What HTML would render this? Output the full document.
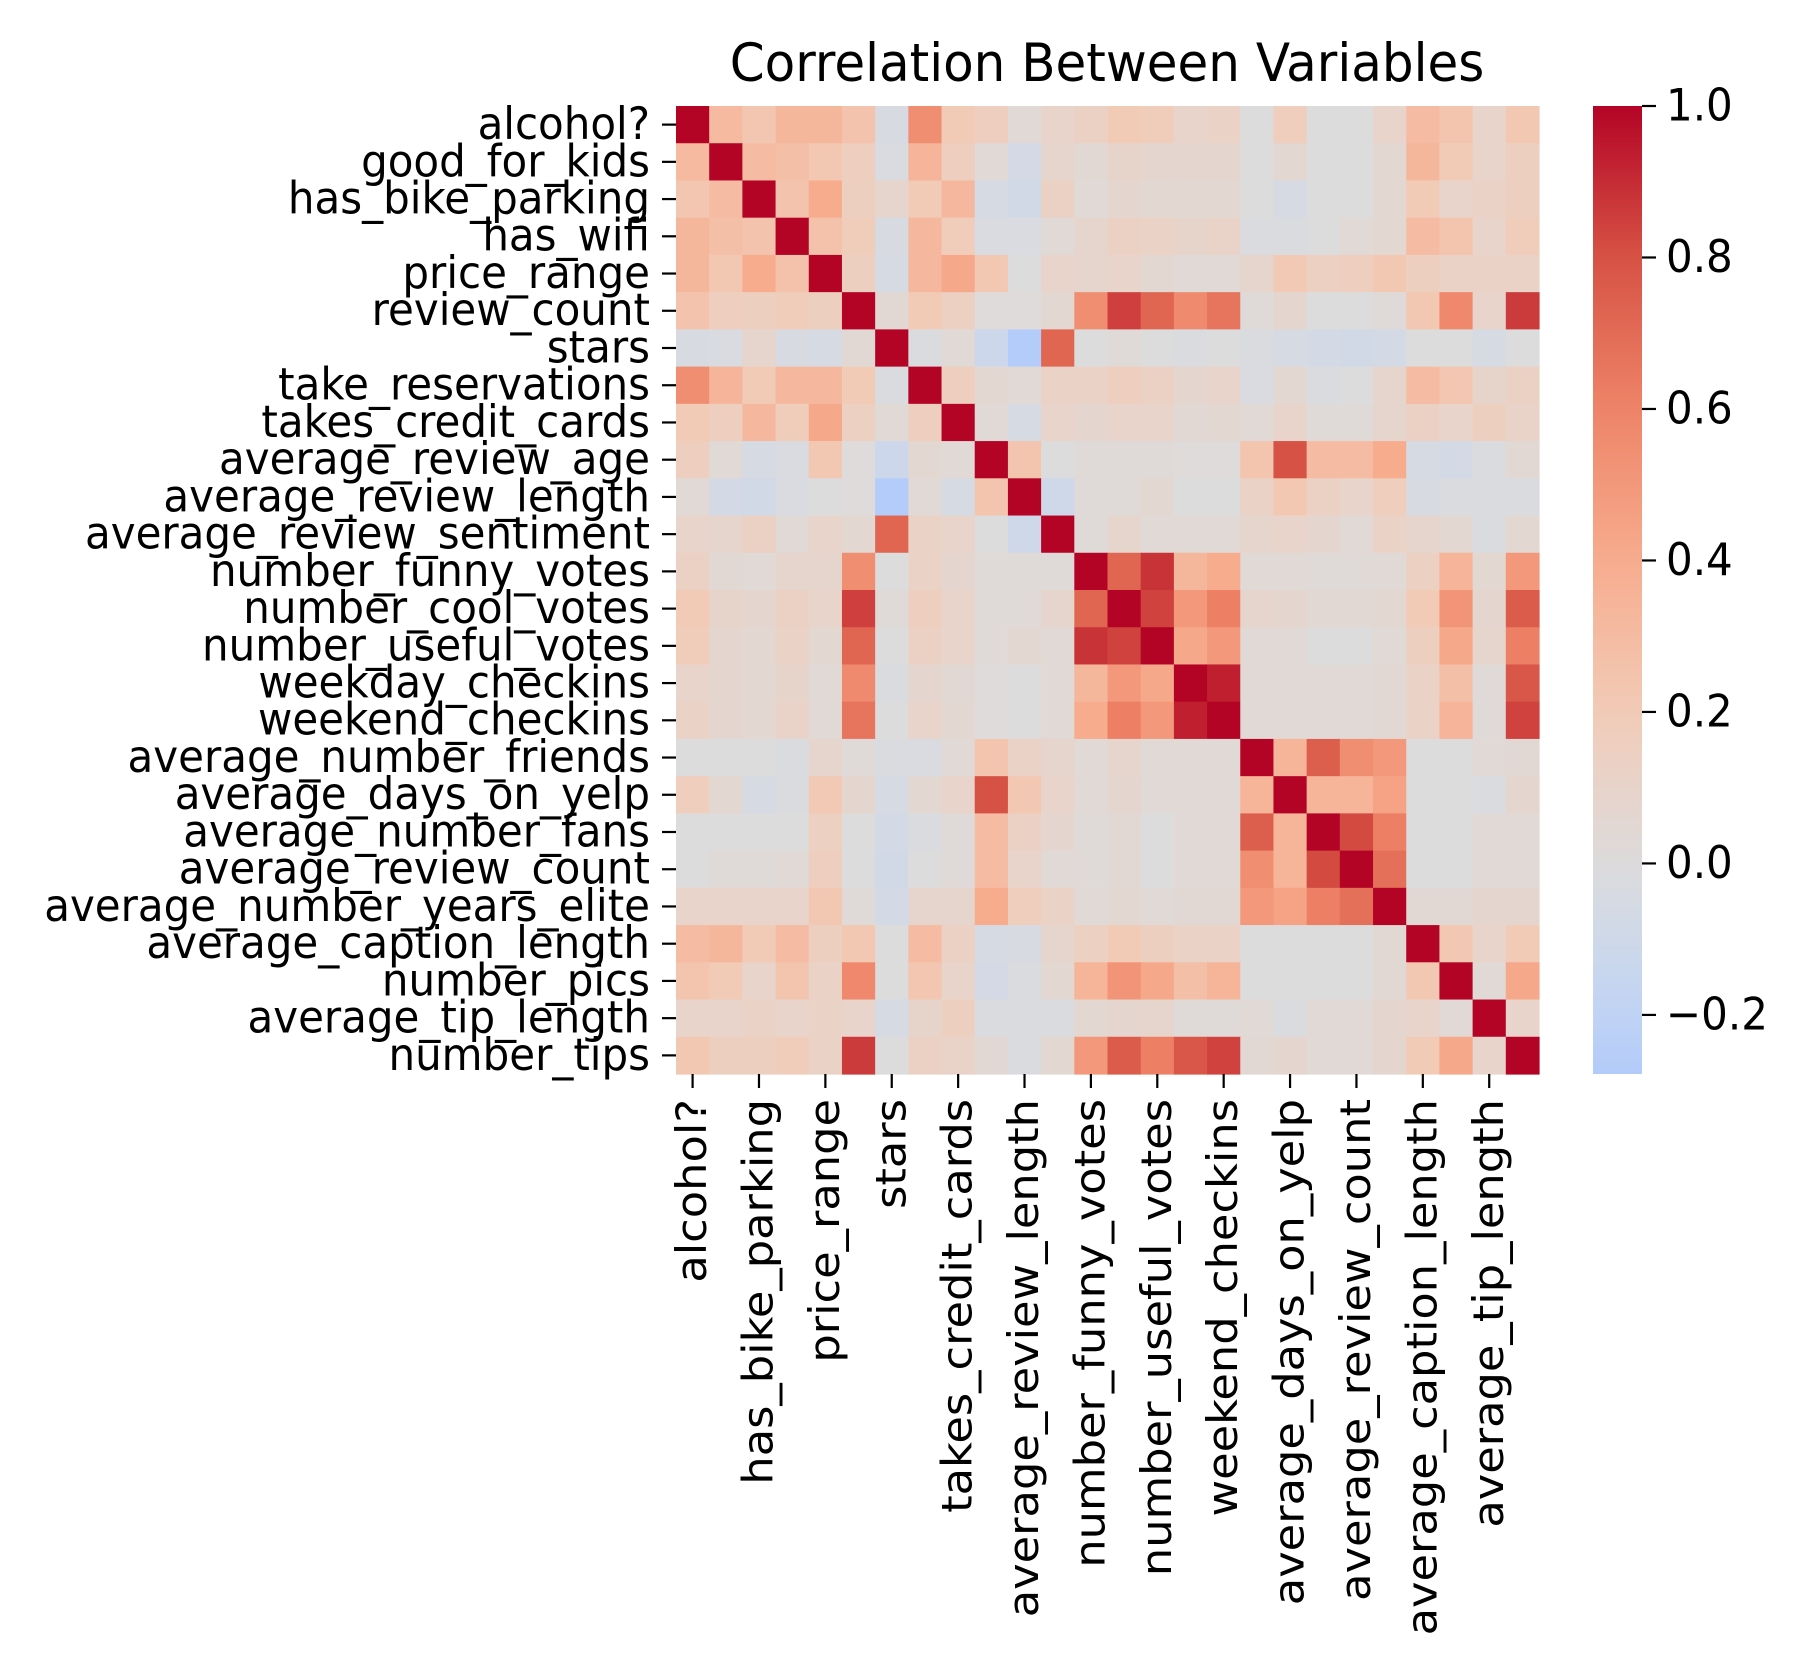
<!DOCTYPE html>
<html><head><meta charset="utf-8"><style>
html,body{margin:0;padding:0;background:#fff;}
svg text{font-family:"DejaVu Sans","Liberation Sans",sans-serif;fill:#000;}
</style></head><body>
<svg id="chart" xmlns="http://www.w3.org/2000/svg" width="1800" height="1650" viewBox="0 0 1800 1650">
<rect x="0" y="0" width="1800" height="1650" fill="#fff"/>
<text x="1107" y="81" font-size="50" text-anchor="middle" transform="translate(1107,81) scale(1,1.05) translate(-1107,-81)">Correlation Between Variables</text>
<g id="cells"></g>
<g id="ylabels"></g>
<g id="xlabels"></g>
<defs><linearGradient id="cbgrad" x1="0" y1="1" x2="0" y2="0"></linearGradient></defs>
<rect id="cbar" x="1593" y="106" width="49" height="968" fill="url(#cbgrad)"/>
<g id="cbticks"></g>
</svg>
<script>
const labels = ["alcohol?","good_for_kids","has_bike_parking","has_wifi","price_range","review_count","stars","take_reservations","takes_credit_cards","average_review_age","average_review_length","average_review_sentiment","number_funny_votes","number_cool_votes","number_useful_votes","weekday_checkins","weekend_checkins","average_number_friends","average_days_on_yelp","average_number_fans","average_review_count","average_number_years_elite","average_caption_length","number_pics","average_tip_length","number_tips"];
const r0 = [1,.31,.23,.33,.33,.25,-.04,.55,.2,.16,.03,.1,.13,.2,.18,.1,.12,0,.17,0,0,.1,.3,.24,.1,.22];
const r1 = [.31,1,.3,.28,.22,.16,-.03,.34,.16,.03,-.07,.08,.05,.09,.07,.07,.07,0,.06,0,0,.06,.33,.2,.1,.15];
const r2 = [.23,.3,1,.25,.4,.15,.08,.2,.32,-.05,-.08,.13,.03,.07,.06,.06,.06,0,-.05,0,0,.06,.2,.1,.12,.15];
const r3 = [.33,.28,.25,1,.26,.18,-.04,.32,.18,-.03,-.03,.04,.08,.13,.12,.09,.11,-.02,-.02,0,.03,.06,.3,.24,.1,.18];
const r4 = [.33,.22,.4,.26,1,.15,-.05,.32,.42,.22,-.01,.1,.08,.1,.06,.04,.04,.08,.21,.14,.16,.22,.15,.12,.12,.12];
const r5 = [.25,.16,.15,.18,.15,1,.05,.2,.14,.01,.01,.06,.55,.85,.72,.57,.66,.02,.07,0,0,.02,.22,.58,.1,.86];
const r6 = [-.04,-.03,.08,-.04,-.05,.05,1,-.02,.04,-.12,-.27,.72,0,.02,-.01,-.02,-.01,-.02,-.05,-.07,-.08,-.07,0,0,-.05,0];
const r7 = [.55,.34,.2,.32,.32,.2,-.02,1,.16,.06,.04,.12,.12,.16,.13,.07,.1,-.03,.06,-.02,-.01,.08,.3,.23,.09,.13];
const r8 = [.2,.16,.32,.18,.42,.14,.04,.16,1,.03,-.05,.1,.07,.1,.1,.05,.06,.03,.1,.02,.02,.08,.13,.1,.15,.11];
const r9 = [.16,.03,-.05,-.03,.22,.01,-.12,.06,.03,1,.24,-.01,.02,.02,.02,.01,.01,.24,.8,.3,.3,.4,-.05,-.07,-.02,.05];
const r10 = [.03,-.07,-.08,-.03,-.01,.01,-.27,.04,-.05,.24,1,-.1,.02,.02,.06,-.01,-.01,.12,.22,.13,.1,.17,-.04,-.02,-.02,-.02];
const r11 = [.1,.08,.13,.04,.1,.06,.72,.12,.1,-.01,-.1,1,.02,.08,.04,.03,.04,.08,.1,.07,.04,.12,.08,.06,-.02,.06];
const r12 = [.13,.05,.03,.08,.08,.55,0,.12,.07,.02,.02,.02,1,.72,.88,.33,.4,.04,.04,.02,.02,.04,.14,.35,.06,.5];
const r13 = [.2,.09,.07,.13,.1,.85,.02,.16,.1,.02,.02,.08,.72,1,.84,.5,.62,.08,.07,.05,.05,.06,.2,.52,.07,.76];
const r14 = [.18,.07,.06,.12,.06,.72,-.01,.13,.1,.02,.06,.04,.88,.84,1,.42,.5,.04,.04,0,0,.03,.15,.42,.08,.62];
const r15 = [.1,.07,.06,.09,.04,.57,-.02,.07,.05,.01,-.01,.03,.33,.5,.42,1,.93,.04,.04,.03,.03,.05,.12,.28,.02,.78];
const r16 = [.12,.07,.06,.11,.04,.66,-.01,.1,.06,.01,-.01,.04,.4,.62,.5,.93,1,.04,.04,.03,.03,.05,.12,.35,.02,.84];
const r17 = [0,0,0,-.02,.08,.02,-.02,-.03,.03,.24,.12,.08,.04,.08,.04,.04,.04,1,.35,.75,.55,.5,0,0,.03,.05];
const r18 = [.17,.06,-.05,-.02,.21,.07,-.05,.06,.1,.8,.22,.1,.04,.07,.04,.04,.04,.35,1,.35,.35,.45,-.01,-.01,-.02,.07];
const r19 = [0,0,0,0,.14,0,-.07,-.02,.02,.3,.13,.07,.02,.05,0,.03,.03,.75,.35,1,.82,.62,-.01,0,.03,.03];
const r20 = [0,.02,.02,.03,.16,0,-.08,-.01,.02,.3,.1,.04,.02,.05,0,.03,.03,.55,.35,.82,1,.68,-.01,0,.03,.03];
const r21 = [.1,.1,.1,.1,.22,.02,-.07,.08,.08,.4,.17,.12,.04,.06,.03,.05,.05,.5,.45,.62,.68,1,.05,.05,.07,.07];
const r22 = [.3,.33,.2,.3,.15,.22,0,.3,.13,-.05,-.04,.08,.14,.2,.15,.12,.12,0,-.01,-.01,-.01,.05,1,.22,.1,.2];
const r23 = [.24,.2,.1,.24,.12,.58,0,.23,.1,-.07,-.02,.06,.35,.52,.42,.28,.35,0,-.01,0,0,.05,.22,1,.03,.42];
const r24 = [.1,.1,.12,.1,.12,.1,-.05,.09,.15,-.02,-.02,-.02,.06,.07,.08,.02,.02,.03,-.02,.03,.03,.07,.1,.03,1,.1];
const r25 = [.22,.15,.15,.18,.12,.86,0,.13,.11,.05,-.02,.06,.5,.76,.62,.78,.84,.05,.07,.03,.03,.07,.2,.42,.1,1];
const matrix = [r0,r1,r2,r3,r4,r5,r6,r7,r8,r9,r10,r11,r12,r13,r14,r15,r16,r17,r18,r19,r20,r21,r22,r23,r24,r25];
const cbTicks = [1.0,0.8,0.6,0.4,0.2,0.0,-0.2];
const cbTickLabels = ["1.0","0.8","0.6","0.4","0.2","0.0","\u22120.2"];
const vmin = -0.278, vmax = 1.0;

const NS = "http://www.w3.org/2000/svg";
const L = 676, R = 1539, T = 106, B = 1074;
const n = labels.length;
const cw = (R - L) / n, ch = (B - T) / n;
const xScale = i => L + i * cw;
const yScale = i => T + i * ch;
const cbY = v => B - (v - vmin) / (vmax - vmin) * (B - T);
const anchors = ["#3b4cc0","#5977e3","#7b9ff9","#9ebeff","#c0d4f5","#dddcdc","#f2cbb7","#f7ac8e","#ee8468","#d65244","#b40426"];
function hex(h){return [1,3,5].map(k=>parseInt(h.substr(k,2),16));}
function coolwarm(v){
  let t = Math.max(0, Math.min(1, (v + 1) / 2)) * 10;
  let i = Math.min(9, Math.floor(t)), f = t - i;
  const a = hex(anchors[i]), b = hex(anchors[i+1]);
  return "rgb(" + a.map((c,k)=>Math.round(c + (b[k]-c)*f)).join(",") + ")";
}
function mk(tag, attrs, parent){
  const e = document.createElementNS(NS, tag);
  for (const k in attrs) e.setAttribute(k, attrs[k]);
  parent.appendChild(e); return e;
}
const cells = document.getElementById("cells");
matrix.forEach((row, r) => row.forEach((v, c) => {
  const e = mk("rect", {x: xScale(c), y: yScale(r), width: cw + 0.6, height: ch + 0.6, fill: coolwarm(v)}, cells);
  
  
}));
const yl = document.getElementById("ylabels");
labels.forEach((lab, i) => {
  const cy = yScale(i) + ch / 2;
  const tk = mk("line", {x1: 662, x2: 676, y1: cy, y2: cy, stroke: "#000", "stroke-width": 2.2}, yl);
  
  
  const t = mk("text", {x: 0, y: 0, "font-size": 42, "text-anchor": "end", "dominant-baseline": "central", transform: "translate(650," + cy + ") scale(1,1.065)"}, yl);
  t.textContent = lab;
  
  
});
const xl = document.getElementById("xlabels");
labels.forEach((lab, i) => {
  if (i % 2) return;
  const cx = xScale(i) + cw / 2;
  const tk = mk("line", {x1: cx, x2: cx, y1: 1074, y2: 1088, stroke: "#000", "stroke-width": 2.2}, xl);
  
  
  const t = mk("text", {x: 0, y: 0, "font-size": 42, "text-anchor": "end", "dominant-baseline": "central", transform: "translate(" + cx + ",1099) rotate(-90) scale(1.065,1)"}, xl);
  t.textContent = lab;
  
  
});
const grad = document.getElementById("cbgrad");
for (let k = 0; k <= 20; k++) {
  const v = vmin + (vmax - vmin) * k / 20;
  mk("stop", {offset: (k / 20), "stop-color": coolwarm(v)}, grad);
}
const cbt = document.getElementById("cbticks");
cbTicks.forEach((v, i) => {
  const y = cbY(v);
  const tk = mk("line", {x1: 1642, x2: 1656, y1: y, y2: y, stroke: "#000", "stroke-width": 2.2}, cbt);
  
  
  const t = mk("text", {x: 0, y: 0, "font-size": 42, "dominant-baseline": "central", transform: "translate(1666," + y + ") scale(1,1.065)"}, cbt);
  t.textContent = cbTickLabels[i];
  
  
});
</script>
</body></html>
